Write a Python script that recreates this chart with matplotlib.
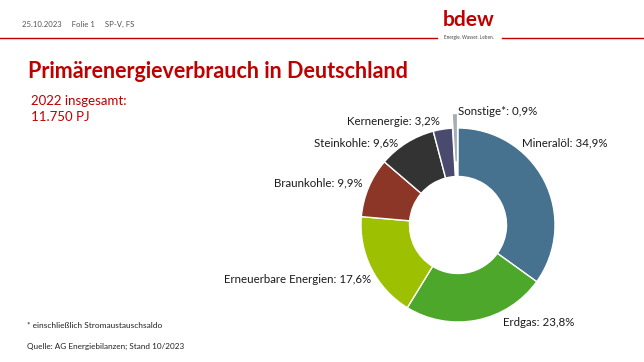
import matplotlib
matplotlib.use('Agg')
import matplotlib.pyplot as plt
from matplotlib.lines import Line2D

# Data
sources = ['Mineralöl', 'Erdgas', 'Erneuerbare Energien', 'Braunkohle',
           'Steinkohle', 'Kernenergie', 'Sonstige*']
shares = [34.9, 23.8, 17.6, 9.9, 9.6, 3.2, 0.9]
colors = ['#46718F', '#4CA72B', '#9DC100', '#8B3626', '#333333', '#4A4A6E', '#A5AEB6']
explode = [0, 0, 0, 0, 0, 0, 0.15]

# label anchor points in pie data units (radius = 1)
label_pos = [(0.66, 0.845, 'left'), (0.464, -1.01, 'left'), (-0.897, -0.557, 'right'),
             (-0.979, 0.433, 'right'), (-0.619, 0.845, 'right'), (-0.186, 1.062, 'right'),
             (0.0, 1.175, 'left')]

W, H = 644, 362
RED = '#C00000'
plt.rcParams['font.family'] = ['Lato', 'DejaVu Sans']

fig = plt.figure(figsize=(W / 100, H / 100), dpi=100)
fig.patch.set_facecolor('white')

# header
fig.text(22 / W, 1 - 24 / H, '25.10.2023     Folie 1     SP-V, FS',
         fontsize=5.6, color='#555555', va='center', ha='left')
fig.add_artist(Line2D([0, 437 / W], [1 - 38 / H] * 2, color=RED, lw=1.0))
fig.add_artist(Line2D([502 / W, 1], [1 - 38 / H] * 2, color=RED, lw=1.0))
fig.text(469 / W, 1 - 20 / H, 'bdew', fontsize=15, color=RED, fontweight='bold',
         ha='center', va='center')
fig.text(469 / W, 1 - 37 / H, 'Energie. Wasser. Leben.', fontsize=3.4, color='#444444',
         ha='center', va='center')

# title
fig.text(28 / W, 1 - 72 / H, 'Primärenergieverbrauch in Deutschland', fontsize=15.5,
         color=RED, fontweight='bold', ha='left', va='center')
fig.text(31 / W, 1 - 101 / H, '2022 insgesamt:', fontsize=9.5, color=RED,
         ha='left', va='center')
fig.text(31 / W, 1 - 117 / H, '11.750 PJ', fontsize=9.5, color=RED,
         ha='left', va='center')

# donut
cx, cy, R = 458, 225, 97
side = 2 * R * 1.25
ax = fig.add_axes([(cx - side / 2) / W, (H - cy - side / 2) / H, side / W, side / H])
ax.pie(shares, colors=colors, startangle=90, counterclock=False, explode=explode,
       wedgeprops=dict(width=0.5, edgecolor='white', linewidth=1.0))
ax.set_xlim(-1.25, 1.25)
ax.set_ylim(-1.25, 1.25)
ax.set_aspect('equal')
ax.axis('off')

for name, val, (x, y, ha) in zip(sources, shares, label_pos):
    ax.text(x, y, f'{name}: {val:.1f}%'.replace('.', ','), fontsize=8.3,
            color='#1a1a1a', ha=ha, va='center')

# footer
fig.text(27 / W, 1 - 326 / H, '* einschließlich Stromaustauschsaldo', fontsize=6,
         color='#222222', ha='left', va='center')
fig.text(27 / W, 1 - 346 / H, 'Quelle: AG Energiebilanzen; Stand 10/2023', fontsize=5.9,
         color='#222222', ha='left', va='center')

fig.savefig('out.png', dpi=100, facecolor='white')
plt.close(fig)
